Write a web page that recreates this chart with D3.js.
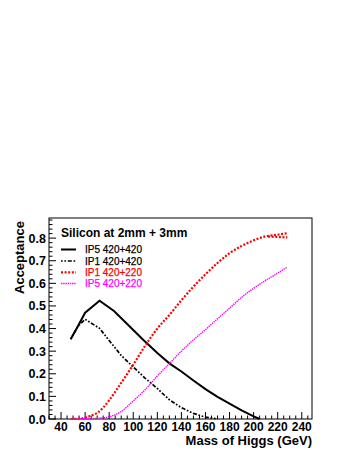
<!DOCTYPE html>
<html>
<head>
<meta charset="utf-8">
<script src="https://cdn.jsdelivr.net/npm/d3@7"></script>
<style>
  body { margin: 0; background: #fff; }
  svg { display: block; font-family: "Liberation Sans", Arial, sans-serif; }
</style>
</head>
<body>
<div id="viz"></div>
<script>
// values (mass in GeV, acceptance)
let ip5_420_420 = [[48, 0.353], [54, 0.41], [60, 0.47], [72, 0.523], [84, 0.478], [96, 0.415],
    [108, 0.352], [120, 0.292], [130, 0.246], [140, 0.21], [150, 0.17], [160, 0.132],
    [170, 0.098], [180, 0.068], [190, 0.038], [200, 0.012], [205, 0.0]];
let ip1_420_420 = [[48, 0.353], [54, 0.41], [60, 0.441], [72, 0.401], [80, 0.347], [90, 0.281],
    [100, 0.23], [110, 0.18], [120, 0.135], [130, 0.085], [140, 0.05], [150, 0.025],
    [160, 0.008], [170, 0.0]];
let ip1_420_220 = [[48, 0.0], [55, 0.001], [60, 0.006], [65, 0.015], [70, 0.027], [75, 0.05],
    [80, 0.083], [90, 0.16], [100, 0.24], [110, 0.325], [120, 0.4], [130, 0.46], [140, 0.525],
    [150, 0.585], [160, 0.64], [170, 0.69], [180, 0.733], [190, 0.765], [200, 0.79],
    [210, 0.808], [220, 0.815], [228, 0.822]];
let ip1_420_220_tail = [[212, 0.807], [220, 0.805], [228, 0.803]];
let ip5_420_220 = [[48, 0.0], [60, 0.001], [70, 0.003], [80, 0.01], [90, 0.033], [100, 0.08],
    [110, 0.13], [120, 0.19], [130, 0.245], [140, 0.3], [150, 0.35], [160, 0.395], [170, 0.443],
    [180, 0.49], [190, 0.538], [200, 0.578], [210, 0.613], [220, 0.645], [228, 0.672]];
let xTicks = [40, 60, 80, 100, 120, 140, 160, 180, 200, 220, 240];
let yTicks = [0, 0.1, 0.2, 0.3, 0.4, 0.5, 0.6, 0.7, 0.8];
let legendTitle = 'Silicon at 2mm + 3mm';
let legendNames = ['IP5 420+420', 'IP1 420+420', 'IP1 420+220', 'IP5 420+220'];

let width = 354, height = 458;
let margin = {left: 49, right: 42, top: 218, bottom: 39};

let svg = d3.select('#viz').append('svg')
    .attr('width', width)
    .attr('height', height);

let x = d3.scaleLinear().domain([30, 248.5]).range([margin.left, width - margin.right]);
let y = d3.scaleLinear().domain([0, 0.889]).range([height - margin.bottom, margin.top]);

// frame
svg.append('rect')
    .attr('x', x.range()[0]).attr('y', y.range()[1])
    .attr('width', x.range()[1] - x.range()[0])
    .attr('height', y.range()[0] - y.range()[1])
    .attr('fill', 'none').attr('stroke', '#000').attr('stroke-width', 1);

// x ticks (inside)
let yb = y(0);
svg.append('g').selectAll('line')
    .data(d3.range(30, 249, 5))
    .enter().append('line')
    .attr('x1', d => x(d)).attr('x2', d => x(d))
    .attr('y1', yb).attr('y2', d => yb - (d % 20 === 0 ? 7 : 3.5))
    .attr('stroke', '#000');
svg.append('g').selectAll('text')
    .data(xTicks)
    .enter().append('text')
    .attr('x', d => x(d)).attr('y', yb + 12)
    .attr('text-anchor', 'middle')
    .style('font-size', '12px').style('font-weight', 'bold')
    .text(d => d);

// y ticks (inside)
let xl = x.range()[0];
svg.append('g').selectAll('line')
    .data(d3.range(0, 45).map(i => i * 0.02))
    .enter().append('line')
    .attr('x1', xl).attr('x2', (d, i) => xl + (i % 5 === 0 ? 7 : 3.5))
    .attr('y1', d => y(d)).attr('y2', d => y(d))
    .attr('stroke', '#000');
svg.append('g').selectAll('text')
    .data(yTicks)
    .enter().append('text')
    .attr('x', xl - 3).attr('y', d => y(d) + 4.5)
    .attr('text-anchor', 'end')
    .style('font-size', '12.5px').style('font-weight', 'bold')
    .text(d => d.toFixed(1));

// axis titles
svg.append('text')
    .attr('x', x.range()[1]).attr('y', 445)
    .attr('text-anchor', 'end')
    .style('font-size', '13px').style('font-weight', 'bold')
    .text('Mass of Higgs (GeV)');
svg.append('text')
    .attr('transform', 'translate(24,' + (margin.top + 3) + ') rotate(-90)')
    .attr('text-anchor', 'end')
    .style('font-size', '13px').style('font-weight', 'bold')
    .text('Acceptance');

// curves: solid one has visible kinks, the dotted ones are smooth
let line = d3.line().x(d => x(d[0])).y(d => y(d[1]));
let smooth = d3.line().x(d => x(d[0])).y(d => y(d[1])).curve(d3.curveMonotoneX);
let styles = [
    {data: ip5_420_420, color: '#000', w: 2, dash: null, gen: line},
    {data: ip1_420_420, color: '#000', w: 1.7, dash: '1.7,1.7,1.7,1.7,4,1.7', gen: line},
    {data: ip1_420_220, color: '#ff0000', w: 2.2, dash: '2,1.6', gen: smooth},
    {data: ip5_420_220, color: '#ff00ff', w: 1.4, dash: '1.4,0.8', gen: smooth}
];
for (let s of styles) {
    svg.append('path')
        .attr('d', s.gen(s.data))
        .attr('fill', 'none')
        .attr('stroke', s.color)
        .attr('stroke-width', s.w)
        .attr('stroke-dasharray', s.dash);
}
svg.append('path')
    .attr('d', smooth(ip1_420_220_tail))
    .attr('fill', 'none')
    .attr('stroke', '#ff0000').attr('stroke-width', 2.2).attr('stroke-dasharray', '2,1.6');

// legend
svg.append('text')
    .attr('x', 61).attr('y', 237)
    .style('font-size', '12px').style('font-weight', 'bold')
    .text(legendTitle);
let legY = [249.5, 261, 272.3, 283.5];
styles.forEach((s, i) => {
    svg.append('line')
        .attr('x1', 61).attr('x2', 76)
        .attr('y1', legY[i]).attr('y2', legY[i])
        .attr('stroke', s.color).attr('stroke-width', s.w)
        .attr('stroke-dasharray', s.dash);
    svg.append('text')
        .attr('x', 85).attr('y', legY[i] + 3.5)
        .attr('fill', s.color)
        .attr('stroke', s.color).attr('stroke-width', 0.25)
        .style('font-size', '10px')
        .text(legendNames[i]);
});
</script>
</body>
</html>
